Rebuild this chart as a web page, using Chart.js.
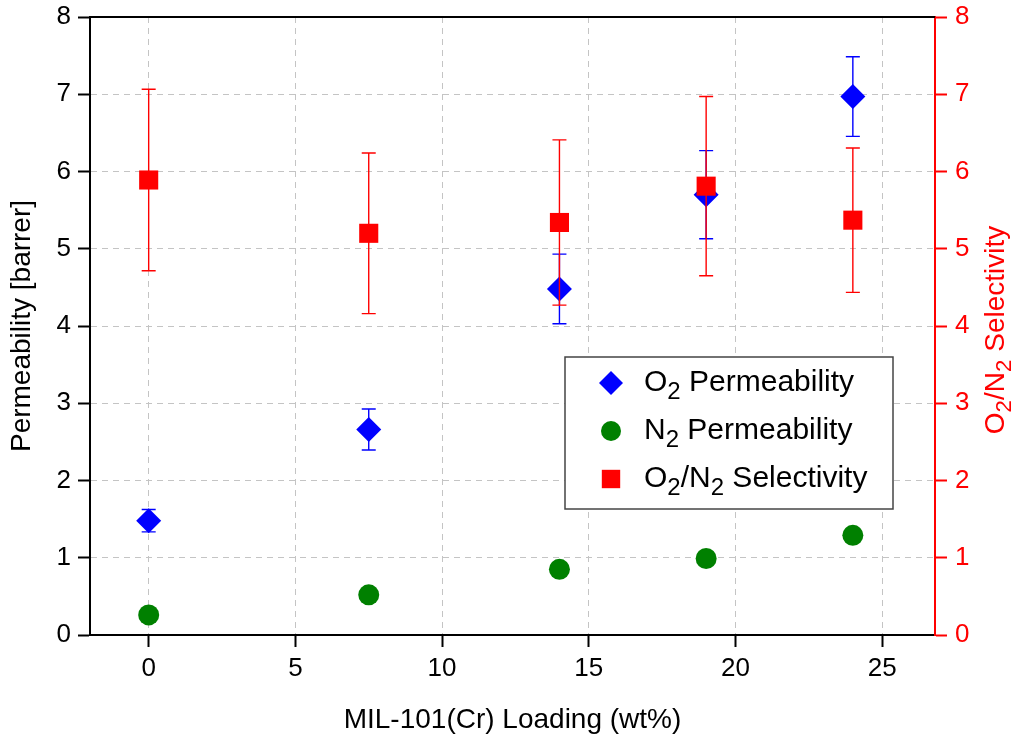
<!DOCTYPE html>
<html>
<head>
<meta charset="utf-8">
<title>MIL-101(Cr) loading</title>
<script src="https://cdn.jsdelivr.net/npm/chart.js@4"></script>
<style>
  html, body { margin: 0; padding: 0; background: #fff; }
  #wrap { width: 1024px; height: 746px; position: relative; }
</style>
</head>
<body>
<div id="wrap"><canvas id="chart"></canvas></div>
<script>
// values
const loading = [0, 7.5, 14, 19, 24]
const o2Perm = [1.48, 2.66, 4.48, 5.70, 6.97]
const o2Err = [0.145, 0.265, 0.45, 0.57, 0.515]
const n2Perm = [0.26, 0.52, 0.85, 0.99, 1.29]
const selectivity = [5.89, 5.20, 5.34, 5.81, 5.37]
const selErr = [1.175, 1.04, 1.07, 1.16, 0.935]
const xTicks = [0, 5, 10, 15, 20, 25]
const yTicks = [0, 1, 2, 3, 4, 5, 6, 7, 8]

const FONT = "'Liberation Sans', Arial, sans-serif"
const TICK_SIZE = 26
const TITLE_SIZE = 28
const LEGEND_SIZE = 30
Chart.defaults.font.family = FONT
Chart.defaults.font.size = TICK_SIZE
Chart.defaults.color = '#000'

function toPoints(xs, ys) {
  return xs.map((x, i) => ({ x: x, y: ys[i] }))
}

// "O_2/N_2 Selectivity" -> pieces with subscripts
function richParts(str) {
  return str.split(/(_\d)/).filter(s => s !== '').map(s =>
    s[0] === '_' ? { t: s.slice(1), sub: true } : { t: s, sub: false })
}
function richWidth(ctx, parts, size) {
  let w = 0
  parts.forEach(p => {
    ctx.font = `${p.sub ? size * 0.8 : size}px ${FONT}`
    w += ctx.measureText(p.t).width
  })
  return w
}
function drawRich(ctx, parts, x, y, size) {
  let cx = x
  ctx.textBaseline = 'middle'
  ctx.textAlign = 'left'
  parts.forEach(p => {
    ctx.font = `${p.sub ? size * 0.8 : size}px ${FONT}`
    ctx.fillText(p.t, cx, y + (p.sub ? size * 0.3 : 0))
    cx += ctx.measureText(p.t).width
  })
}

function drawMarker(ctx, style, color, r, x, y) {
  ctx.fillStyle = color
  ctx.beginPath()
  if (style === 'rectRot') {
    ctx.moveTo(x, y - r); ctx.lineTo(x + r, y); ctx.lineTo(x, y + r); ctx.lineTo(x - r, y)
    ctx.closePath()
  } else if (style === 'rect') {
    const s = r * Math.SQRT1_2
    ctx.rect(x - s, y - s, 2 * s, 2 * s)
  } else {
    ctx.arc(x, y, r, 0, Math.PI * 2)
  }
  ctx.fill()
}

// keep the plot box where the figure has it
function fixVertical(width) {
  return s => { s.width = width; s.paddingTop = 0; s.paddingBottom = 0 }
}

const errorBars = {
  id: 'errorBars',
  beforeDatasetDraw(chart, args) {
    const ds = chart.data.datasets[args.index]
    if (!ds.errors) return
    const ctx = chart.ctx
    const xs = chart.scales.x
    const ys = chart.scales[ds.yAxisID]
    ctx.save()
    ctx.strokeStyle = ds.backgroundColor
    ctx.lineWidth = 1.4
    ds.data.forEach((p, j) => {
      const e = ds.errors[j]
      const px = xs.getPixelForValue(p.x)
      const top = ys.getPixelForValue(p.y + e)
      const bot = ys.getPixelForValue(p.y - e)
      ctx.beginPath()
      ctx.moveTo(px, top); ctx.lineTo(px, bot)
      ctx.moveTo(px - 7, top); ctx.lineTo(px + 7, top)
      ctx.moveTo(px - 7, bot); ctx.lineTo(px + 7, bot)
      ctx.stroke()
    })
    ctx.restore()
  }
}

const frameAndLegend = {
  id: 'frameAndLegend',
  afterDraw(chart) {
    const ctx = chart.ctx
    const a = chart.chartArea
    ctx.save()
    // top frame line
    ctx.strokeStyle = '#000'
    ctx.lineWidth = 2
    ctx.beginPath()
    ctx.moveTo(a.left - 1, a.top); ctx.lineTo(a.right, a.top)
    ctx.stroke()

    // right axis title, rotated, with subscripts
    const tParts = richParts('O_2/N_2 Selectivity')
    const tw = richWidth(ctx, tParts, TITLE_SIZE)
    ctx.translate(996, (a.top + a.bottom) / 2 + 4)
    ctx.rotate(-Math.PI / 2)
    ctx.fillStyle = '#ff0000'
    drawRich(ctx, tParts, -tw / 2, 0, TITLE_SIZE)
    ctx.setTransform(1, 0, 0, 1, 0, 0)
    ctx.restore()

    // legend box
    ctx.save()
    const bx = 565, by = 357, bw = 328, bh = 152
    ctx.fillStyle = '#fff'
    ctx.fillRect(bx, by, bw, bh)
    ctx.strokeStyle = '#444'
    ctx.lineWidth = 1.5
    ctx.strokeRect(bx, by, bw, bh)
    const order = [2, 1, 0]
    order.forEach((di, row) => {
      const ds = chart.data.datasets[di]
      const y = by + 26 + row * 48
      drawMarker(ctx, ds.pointStyle, ds.backgroundColor, ds.legendRadius, bx + 46, y)
      ctx.fillStyle = '#000'
      drawRich(ctx, richParts(ds.richLabel), bx + 79, y, LEGEND_SIZE)
    })
    ctx.restore()
  }
}

new Chart(document.getElementById('chart'), {
  type: 'scatter',
  data: {
    datasets: [
      {
        label: 'O2/N2 Selectivity',
        richLabel: 'O_2/N_2 Selectivity',
        data: toPoints(loading, selectivity),
        errors: selErr,
        yAxisID: 'y2',
        pointStyle: 'rect',
        backgroundColor: '#ff0000',
        borderColor: '#ff0000',
        borderWidth: 0,
        pointRadius: 13.5,
        legendRadius: 13,
        order: 1
      },
      {
        label: 'N2 Permeability',
        richLabel: 'N_2 Permeability',
        data: toPoints(loading, n2Perm),
        yAxisID: 'y',
        pointStyle: 'circle',
        backgroundColor: '#008000',
        borderColor: '#008000',
        borderWidth: 0,
        pointRadius: 10.5,
        legendRadius: 10,
        order: 2
      },
      {
        label: 'O2 Permeability',
        richLabel: 'O_2 Permeability',
        data: toPoints(loading, o2Perm),
        errors: o2Err,
        yAxisID: 'y',
        pointStyle: 'rectRot',
        backgroundColor: '#0000ff',
        borderColor: '#0000ff',
        borderWidth: 0,
        pointRadius: 12.5,
        legendRadius: 12,
        order: 3
      }
    ]
  },
  options: {
    responsive: true,
    maintainAspectRatio: false,
    animation: false,
    events: [],
    layout: { padding: { top: 17, left: 0, right: 0, bottom: 0 } },
    plugins: {
      legend: { display: false },
      tooltip: { enabled: false }
    },
    scales: {
      x: {
        type: 'linear',
        min: -2,
        max: 26.8,
        afterBuildTicks: s => { s.ticks = xTicks.map(v => ({ value: v })) },
        afterFit: s => { s.height = 111; s.paddingLeft = 0; s.paddingRight = 0 },
        ticks: { padding: 6, color: '#000' },
        grid: {
          color: '#c4c4c4', lineWidth: 1,
          tickColor: '#000', tickWidth: 2, tickLength: 12, tickBorderDash: []
        },
        border: { color: '#000', width: 2, dash: [6, 5] },
        title: {
          display: true, text: 'MIL-101(Cr) Loading (wt%)',
          color: '#000', font: { size: TITLE_SIZE },
          padding: { top: 0, bottom: 9 }
        }
      },
      y: {
        type: 'linear',
        position: 'left',
        min: 0,
        max: 8,
        afterBuildTicks: s => { s.ticks = yTicks.map(v => ({ value: v })) },
        afterFit: fixVertical(90),
        ticks: { padding: 7, color: '#000' },
        grid: {
          color: '#c4c4c4', lineWidth: 1,
          tickColor: '#000', tickWidth: 2, tickLength: 12, tickBorderDash: []
        },
        border: { color: '#000', width: 2, dash: [6, 5] },
        title: {
          display: true, text: 'Permeability [barrer]',
          color: '#000', font: { size: TITLE_SIZE },
          padding: { top: 5, bottom: 0 }
        }
      },
      y2: {
        type: 'linear',
        position: 'right',
        min: 0,
        max: 8,
        afterBuildTicks: s => { s.ticks = yTicks.map(v => ({ value: v })) },
        afterFit: fixVertical(89),
        ticks: { padding: 8, color: '#ff0000' },
        grid: {
          drawOnChartArea: false,
          tickColor: '#ff0000', tickWidth: 2, tickLength: 12
        },
        border: { color: '#ff0000', width: 2 }
      }
    }
  },
  plugins: [errorBars, frameAndLegend]
})
</script>
</body>
</html>
